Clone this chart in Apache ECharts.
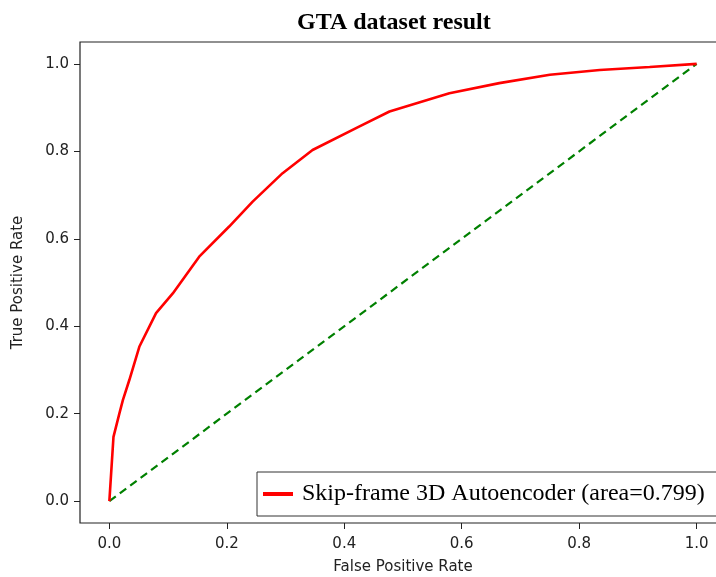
<!DOCTYPE html>
<html>
<head>
<meta charset="utf-8">
<script src="https://cdn.jsdelivr.net/npm/echarts@6/dist/echarts.min.js"></script>
<style>
  html, body { margin: 0; padding: 0; background: #fff; }
  #chart { width: 716px; height: 577px; }
</style>
</head>
<body>
<div id="chart"></div>
<script>
// ROC curve
var fpr = [0, 0.007, 0.017, 0.023, 0.034, 0.051, 0.0795, 0.108, 0.153, 0.204, 0.244,
           0.295, 0.346, 0.426, 0.477, 0.579, 0.664, 0.75, 0.835, 0.92, 1.0];
var tpr = [0, 0.147, 0.20, 0.231, 0.277, 0.353, 0.43, 0.475, 0.559, 0.628, 0.685,
           0.75, 0.803, 0.857, 0.891, 0.933, 0.956, 0.975, 0.986, 0.993, 1.0];
var chanceX = [0, 1];
var chanceY = [0, 1];
var ticks = [0, 0.2, 0.4, 0.6, 0.8, 1.0];
var curveName = 'Skip-frame 3D Autoencoder (area=0.799)';

var chart = echarts.init(document.getElementById('chart'));

function pairs(xs, ys) {
  return xs.map(function (x, i) { return [x, ys[i]]; });
}

var tickFont = { fontFamily: 'DejaVu Sans', fontSize: 15, color: '#222' };

function axis(name, gap, labelMargin) {
  return {
    type: 'value', min: -0.05, max: 1.05,
    name: name, nameLocation: 'middle', nameGap: gap,
    nameTextStyle: tickFont,
    splitLine: { show: false },
    axisLine: { show: false, onZero: false },
    axisTick: { show: true, length: 6, customValues: ticks, lineStyle: { color: '#222' } },
    axisLabel: {
      customValues: ticks, margin: labelMargin,
      formatter: function (v) { return v.toFixed(1); },
      fontFamily: 'DejaVu Sans', fontSize: 15, color: '#222'
    }
  };
}

chart.setOption({
  animation: false,
  title: {
    text: 'GTA dataset result',
    left: 292,
    top: 6,
    textStyle: { fontFamily: 'Liberation Serif', fontWeight: 'bold', fontSize: 24, color: '#000' }
  },
  grid: {
    left: 80, top: 42, width: 646, height: 481,
    outerBoundsMode: 'none', containLabel: false,
    show: true, borderColor: '#222', borderWidth: 1.2
  },
  legend: {
    data: [curveName],
    left: 257, top: 472,
    padding: [10, 40, 10, 6],
    borderColor: '#333', borderWidth: 1,
    backgroundColor: '#fff',
    icon: 'rect', itemWidth: 30, itemHeight: 4,
    textStyle: { fontFamily: 'Liberation Serif', fontSize: 24, lineHeight: 21, color: '#000', padding: [0, 0, 0, 4] }
  },
  xAxis: axis('False Positive Rate', 37, 14),
  yAxis: axis('True Positive Rate', 54, 11),
  series: [
    {
      name: 'chance',
      type: 'line',
      data: pairs(chanceX, chanceY),
      showSymbol: false,
      lineStyle: { color: '#008000', width: 2.2, type: [8, 5] },
      z: 2
    },
    {
      name: curveName,
      type: 'line',
      data: pairs(fpr, tpr),
      showSymbol: false,
      itemStyle: { color: '#ff0000' },
      lineStyle: { color: '#ff0000', width: 2.6 },
      z: 3
    }
  ]
});
</script>
</body>
</html>
